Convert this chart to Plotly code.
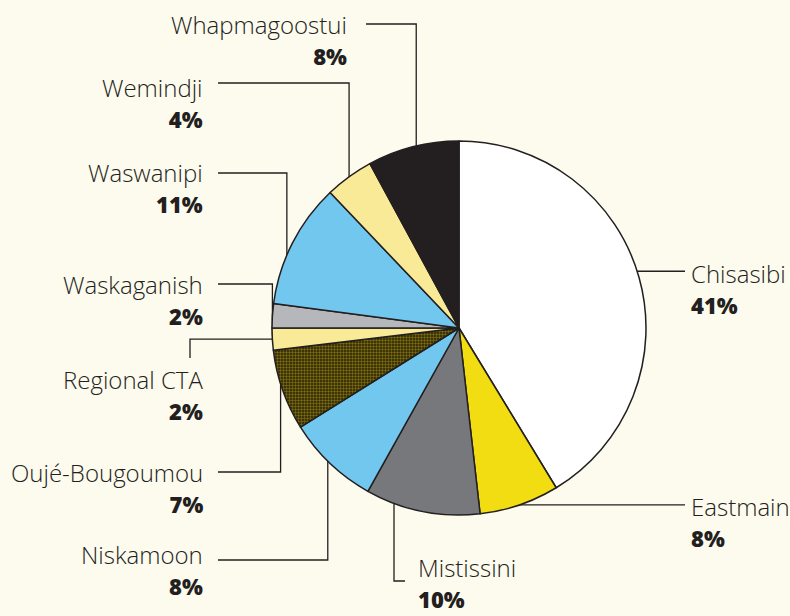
import math
import plotly.graph_objects as go

# slice shares (clockwise from 12 o'clock) and the printed labels
names = ["Chisasibi", "Eastmain", "Mistissini", "Niskamoon", "Oujé-Bougoumou",
         "Regional CTA", "Waskaganish", "Waswanipi", "Wemindji", "Whapmagoostui"]
shares = [41.3, 6.9, 9.9, 8.0, 7.0, 1.9, 2.1, 10.8, 4.2, 7.9]
pct_text = ["41%", "8%", "10%", "8%", "7%", "2%", "2%", "11%", "4%", "8%"]

colors = ["#ffffff", "#f2dc12", "#77787b", "#72c7ef", "#3a3210",
          "#f8ea97", "#b6b7ba", "#72c7ef", "#f8ea97", "#231f20"]

W, H = 790, 616
CX, CY, R = 459, 328, 187
INK = "#231f20"
BG = "#fdfaee"
FONT = "Open Sans"

# label placement (pixels) - layout only
side = ["R", "R", "B", "L", "L", "V", "L", "L", "L", "L"]
text_x = [689, 689, 416, 205, 205, 205, 205, 205, 205, 349]
name_y = [271, 503, 566, 553, 471, 378, 283, 171, 87, 23]
line_y = [None, None, 581, 560, 472, 358, 284, 173, 83, 24]
line_end = [685, 685, 405, 218, 218, 190, 218, 218, 218, 366]
ang_off = [-2, 0, 9, 1, 2, 0, 0, -4, 0, 1]


def px(x, y):
    return x / W, 1 - y / H


fig = go.Figure()
fig.add_trace(go.Pie(
    labels=names, values=shares, sort=False, direction="clockwise", rotation=0,
    textinfo="none", hoverinfo="label+percent", showlegend=False,
    marker=dict(colors=colors, line=dict(color=INK, width=1.5),
                pattern=dict(shape=["", "", "", "", ".", "", "", "", "", ""],
                             fgcolor="#7d6c0e", bgcolor="#262006",
                             size=3, solidity=0.5, fillmode="replace")),
    domain=dict(x=[(CX - R) / W, (CX + R) / W], y=[1 - (CY + R) / H, 1 - (CY - R) / H]),
))

total = sum(shares)
cum = 0
shapes = []
annos = []
for i, v in enumerate(shares):
    mid = (cum + v / 2) / total * 360 + ang_off[i]
    cum += v
    a = math.radians(mid)
    ax, ay = CX + R * math.sin(a), CY - R * math.cos(a)
    if side[i] == "R":
        pts = [(line_end[i], ay), (ax - 20, ay)]
        ny = ay + 1
    elif side[i] == "V":
        pts = [(line_end[i], line_y[i]), (line_end[i], ay), (ax + 20, ay)]
        ny = name_y[i]
    else:
        pts = [(line_end[i], line_y[i]), (ax, line_y[i]), (ax, ay + (20 if line_y[i] < ay else -20))]
        ny = name_y[i]
    path = ""
    for k, (x, y) in enumerate(pts):
        qx, qy = px(x, y)
        path += ("M" if k == 0 else " L") + f" {qx:.5f} {qy:.5f}"
    shapes.append(dict(type="path", path=path, xref="paper", yref="paper",
                       line=dict(color=INK, width=1.3), layer="below"))
    anchor = "right" if side[i] in ("L", "V") else "left"
    tx, _ = px(text_x[i], 0)
    label = (f"{names[i]}<br><span style='font-size:22px;font-weight:800'>"
             f"{pct_text[i]}</span>")
    annos.append(dict(x=tx, y=px(0, ny + 16)[1], xref="paper", yref="paper", text=label,
                      showarrow=False, xanchor=anchor, yanchor="middle", align=anchor,
                      font=dict(family=FONT, size=24, color=INK, weight=300)))

fig.update_layout(
    width=W, height=H, margin=dict(l=0, r=0, t=0, b=0),
    paper_bgcolor=BG, plot_bgcolor=BG,
    shapes=shapes, annotations=annos,
)
fig.write_html("out.html", config={"displayModeBar": False},
               post_script="document.body.style.margin='0';document.body.style.background='%s';" % BG)
